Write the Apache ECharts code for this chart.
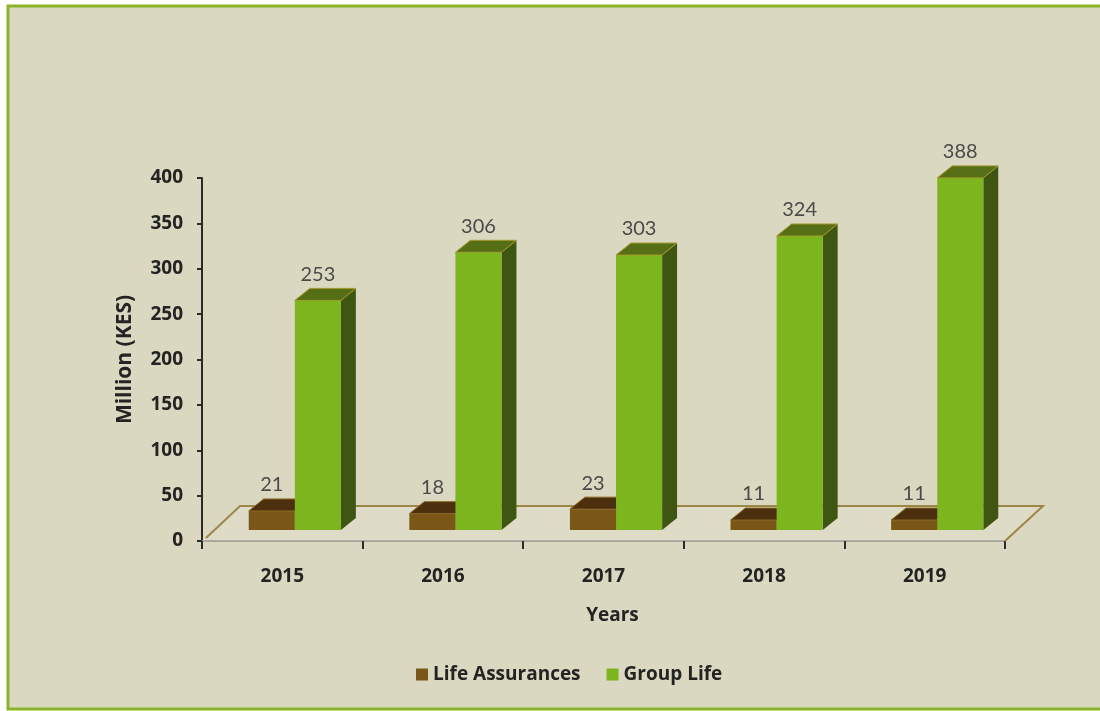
<!DOCTYPE html>
<html>
<head>
<meta charset="utf-8">
<script src="https://cdn.jsdelivr.net/npm/echarts@6/dist/echarts.min.js"></script>
<style>
  html, body { margin: 0; padding: 0; background: #ffffff; }
  #chart { width: 1100px; height: 711px; }
</style>
</head>
<body>
<div id="chart"></div>
<script>
// Premium figures, million KES
const years = ['2015', '2016', '2017', '2018', '2019'];
const lifeAssurances = [21, 18, 23, 11, 11];
const groupLife = [253, 306, 303, 324, 388];

const AXIS_FONT = '"Open Sans", Lato, sans-serif';
const VALUE_FONT = 'Lato, "Open Sans", sans-serif';

const brownFaces = { front: '#7a5717', top: '#4b2f0f', side: '#3e270b', edge: '#8a6a22' };
const greenFaces = { front: '#7db51f', top: '#566f17', side: '#3f5512', edge: '#a49a2c' };

const axisText = { fontFamily: AXIS_FONT, fontSize: 19, fontWeight: 'bold', color: '#232321' };

// Pseudo-3D bar: front face, top face and right side, drawn from axis coordinates
function makeBarRenderer(slot, faces) {
  return function (params, api) {
    const idx = api.value(0);
    const val = api.value(1);
    const base = api.coord([idx, 0]);
    const top = api.coord([idx, val]);
    const band = api.size([1, 0])[0];
    const w = band * 0.287;
    const shift = band * 0.078;
    const dx = band * 0.093;
    const dy = -12;
    const lift = 11;
    const x0 = base[0] + shift + (slot === 0 ? -w : 0);
    const yb = base[1] - lift;
    const yt = top[1] - lift;
    return {
      type: 'group',
      children: [
        {
          type: 'polygon',
          shape: { points: [[x0 + w, yt], [x0 + w + dx, yt + dy], [x0 + w + dx, yb + dy], [x0 + w, yb]] },
          style: { fill: faces.side }
        },
        {
          type: 'rect',
          shape: { x: x0, y: yt, width: w, height: yb - yt },
          style: { fill: faces.front }
        },
        {
          type: 'polygon',
          shape: { points: [[x0, yt], [x0 + w, yt], [x0 + w + dx, yt + dy], [x0 + dx, yt + dy]] },
          style: { fill: faces.top, stroke: faces.edge, lineWidth: 1 }
        },
        {
          type: 'text',
          style: {
            x: x0 + w / 2,
            y: yt + dy - 14,
            text: String(val),
            align: 'center',
            verticalAlign: 'middle',
            fontFamily: VALUE_FONT,
            fontSize: 20,
            fill: '#4a4a48'
          }
        }
      ]
    };
  };
}

// Floor plane under the bars
function renderFloor(params, api) {
  const c0 = api.coord([0, 0]);
  const band = api.size([1, 0])[0];
  const left = c0[0] - band / 2;
  const right = left + years.length * band;
  const y0 = c0[1];
  const ddx = 38, ddy = -35;
  return {
    type: 'group',
    children: [
      {
        type: 'polygon',
        shape: { points: [[left, y0], [right, y0], [right + ddx, y0 + ddy], [left + ddx, y0 + ddy]] },
        style: { fill: 'rgba(255,255,245,0.10)' }
      },
      {
        type: 'polyline',
        shape: { points: [[left + 4, y0 - 3], [left + ddx, y0 + ddy], [right + ddx, y0 + ddy], [right, y0]] },
        style: { stroke: '#9c8648', lineWidth: 2, fill: null }
      }
    ]
  };
}

const chart = echarts.init(document.getElementById('chart'), null, { renderer: 'canvas' });

chart.setOption({
  backgroundColor: '#ffffff',
  animation: false,
  graphic: [
    {
      type: 'rect',
      z: -10,
      shape: { x: 8, y: 6, width: 1110, height: 703 },
      style: { fill: '#dbd8c2', stroke: '#8cb42a', lineWidth: 3 }
    }
  ],
  grid: { left: 202, right: 95, top: 178, bottom: 170, containLabel: false },
  legend: {
    data: ['Life Assurances', 'Group Life'],
    left: 411,
    top: 660,
    icon: 'rect',
    itemWidth: 12,
    itemHeight: 12,
    itemGap: 26,
    textStyle: { fontFamily: AXIS_FONT, fontSize: 19, fontWeight: 'bold', color: '#232321' }
  },
  xAxis: {
    type: 'category',
    data: years,
    boundaryGap: true,
    name: 'Years',
    nameLocation: 'middle',
    nameGap: 65,
    nameTextStyle: Object.assign({ padding: [0, 0, 0, 18] }, axisText),
    axisLine: { show: true, lineStyle: { color: '#a5a49a', width: 2 } },
    axisTick: { show: true, alignWithLabel: false, length: 8, lineStyle: { color: '#2a2a2a', width: 2 } },
    axisLabel: Object.assign({ margin: 26 }, axisText),
    splitLine: { show: false }
  },
  yAxis: {
    type: 'value',
    min: 0,
    max: 400,
    interval: 50,
    name: 'Million (KES)',
    nameLocation: 'middle',
    nameGap: 66,
    nameTextStyle: Object.assign({}, axisText, { fontSize: 21 }),
    axisLine: { show: true, lineStyle: { color: '#2a2a2a', width: 2 } },
    axisTick: { show: true, length: 5, lineStyle: { color: '#2a2a2a', width: 2 } },
    axisLabel: Object.assign({ margin: 19 }, axisText),
    splitLine: { show: false }
  },
  series: [
    {
      type: 'custom',
      name: 'floor',
      z: 1,
      renderItem: renderFloor,
      data: [[0, 0]],
      silent: true
    },
    {
      type: 'custom',
      name: 'Life Assurances',
      z: 2,
      itemStyle: { color: '#7a5717' },
      renderItem: makeBarRenderer(0, brownFaces),
      encode: { x: 0, y: 1 },
      data: lifeAssurances.map((v, i) => [i, v])
    },
    {
      type: 'custom',
      name: 'Group Life',
      z: 3,
      itemStyle: { color: '#7db51f' },
      renderItem: makeBarRenderer(1, greenFaces),
      encode: { x: 0, y: 1 },
      data: groupLife.map((v, i) => [i, v])
    }
  ]
});
</script>
</body>
</html>
